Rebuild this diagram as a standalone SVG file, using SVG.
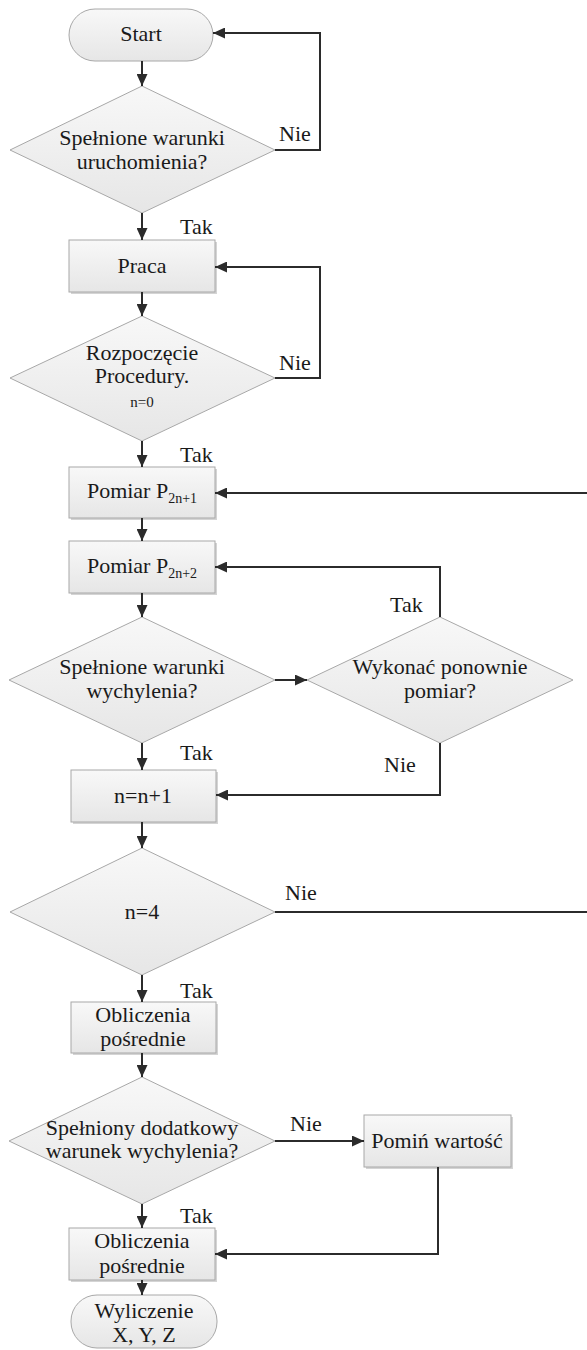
<svg xmlns="http://www.w3.org/2000/svg" width="587" height="1350" viewBox="0 0 587 1350">
<defs>
<linearGradient id="g" x1="0" y1="0" x2="0" y2="1">
<stop offset="0" stop-color="#f8f8f8"/>
<stop offset="1" stop-color="#e6e6e6"/>
</linearGradient>
<marker id="arr" viewBox="0 0 12 11" refX="12" refY="5.5" markerWidth="12" markerHeight="11" markerUnits="userSpaceOnUse" orient="auto">
<path d="M0,0 L12,5.5 L0,11 z" fill="#2b2b2b"/>
</marker>
</defs>
<style>
.s{fill:url(#g);stroke:#a8a8a8;stroke-width:1}
.sh{fill:#d4d4d4}
.ntx{font-family:"Liberation Serif","Times New Roman",serif;font-size:22px;fill:#1a1a1a;text-anchor:middle}
.sm{font-size:15px}
.sub{font-size:14px}
.lbl{font-family:"Liberation Serif","Times New Roman",serif;font-size:22px;fill:#1a1a1a}
.c{fill:none;stroke:#2b2b2b;stroke-width:2;marker-end:url(#arr)}
</style>

<g id="start">
<rect class="s" x="69" y="9" width="144" height="52" rx="26"/>
<text class="ntx" x="141" y="41">Start</text>
</g>
<g id="d1">
<polygon class="s" points="142,86 275,150 142,213 10,150"/>
<text class="ntx" x="142" y="145">Spełnione warunki</text>
<text class="ntx" x="142" y="169">uruchomienia?</text>
</g>
<g id="praca">
<rect class="sh" x="71" y="242" width="146" height="52"/>
<rect class="s" x="69" y="240" width="146" height="52"/>
<text class="ntx" x="142" y="273">Praca</text>
</g>
<g id="d2">
<polygon class="s" points="142,316 275,378 142,441 10,378"/>
<text class="ntx" x="142" y="360">Rozpoczęcie</text>
<text class="ntx" x="142" y="383">Procedury.</text>
<text class="ntx sm" x="142" y="407">n=0</text>
</g>
<g id="pomiar1">
<rect class="sh" x="71" y="469" width="146" height="51"/>
<rect class="s" x="69" y="467" width="146" height="51"/>
<text class="ntx" x="142" y="498">Pomiar P<tspan class="sub" dy="5">2n+1</tspan></text>
</g>
<g id="pomiar2">
<rect class="sh" x="71" y="543" width="146" height="52"/>
<rect class="s" x="69" y="541" width="146" height="52"/>
<text class="ntx" x="142" y="573">Pomiar P<tspan class="sub" dy="5">2n+2</tspan></text>
</g>
<g id="d3">
<polygon class="s" points="142,617 275,680 142,743 9,680"/>
<text class="ntx" x="142" y="674">Spełnione warunki</text>
<text class="ntx" x="142" y="698">wychylenia?</text>
</g>
<g id="d4">
<polygon class="s" points="440,617 573,680 440,743 307,680"/>
<text class="ntx" x="440" y="674">Wykonać ponownie</text>
<text class="ntx" x="440" y="698">pomiar?</text>
</g>
<g id="inc">
<rect class="sh" x="73" y="772" width="145" height="52"/>
<rect class="s" x="71" y="770" width="145" height="52"/>
<text class="ntx" x="143" y="803">n=n+1</text>
</g>
<g id="d5">
<polygon class="s" points="142,848 275,912 142,975 10,912"/>
<text class="ntx" x="142" y="919">n=4</text>
</g>
<g id="obl1">
<rect class="sh" x="73" y="1004" width="145" height="51"/>
<rect class="s" x="71" y="1002" width="145" height="51"/>
<text class="ntx" x="143" y="1022">Obliczenia</text>
<text class="ntx" x="143" y="1046">pośrednie</text>
</g>
<g id="d6">
<polygon class="s" points="142,1077 275,1141 142,1204 9,1141"/>
<text class="ntx" x="142" y="1135">Spełniony dodatkowy</text>
<text class="ntx" x="142" y="1158">warunek wychylenia?</text>
</g>
<g id="pomin">
<rect class="sh" x="366" y="1117" width="147" height="52"/>
<rect class="s" x="364" y="1115" width="147" height="52"/>
<text class="ntx" x="437" y="1148">Pomiń wartość</text>
</g>
<g id="obl2">
<rect class="sh" x="71" y="1230" width="146" height="52"/>
<rect class="s" x="69" y="1228" width="146" height="52"/>
<text class="ntx" x="142" y="1248">Obliczenia</text>
<text class="ntx" x="142" y="1273">pośrednie</text>
</g>
<g id="end">
<rect class="s" x="71" y="1295" width="146" height="53" rx="26"/>
<text class="ntx" x="144" y="1318">Wyliczenie</text>
<text class="ntx" x="144" y="1342">X, Y, Z</text>
</g>

<g id="connectors">
<path class="c" d="M142,61 V86"/>
<path class="c" d="M275,150 H320 V33 H213"/>
<path class="c" d="M142,213 V240"/>
<path class="c" d="M142,292 V316"/>
<path class="c" d="M275,378 H320 V267 H215"/>
<path class="c" d="M142,441 V467"/>
<path class="c" d="M142,518 V541"/>
<path class="c" d="M142,593 V617"/>
<path class="c" d="M275,680 H307"/>
<path class="c" d="M440,617 V567 H215"/>
<path class="c" d="M440,743 V795 H216"/>
<path class="c" d="M142,743 V770"/>
<path class="c" d="M142,822 V848"/>
<path class="c" d="M275,912 H592 V493 H215"/>
<path class="c" d="M142,975 V1002"/>
<path class="c" d="M142,1053 V1077"/>
<path class="c" d="M275,1141 H364"/>
<path class="c" d="M438,1167 V1254 H215"/>
<path class="c" d="M142,1204 V1228"/>
<path class="c" d="M142,1280 V1295"/>
</g>

<g id="labels">
<text class="lbl" x="279" y="141">Nie</text>
<text class="lbl" x="180" y="234">Tak</text>
<text class="lbl" x="279" y="370">Nie</text>
<text class="lbl" x="180" y="462">Tak</text>
<text class="lbl" x="390" y="612">Tak</text>
<text class="lbl" x="180" y="760">Tak</text>
<text class="lbl" x="384" y="772">Nie</text>
<text class="lbl" x="285" y="900">Nie</text>
<text class="lbl" x="180" y="998">Tak</text>
<text class="lbl" x="290" y="1131">Nie</text>
<text class="lbl" x="180" y="1223">Tak</text>
</g>
</svg>
